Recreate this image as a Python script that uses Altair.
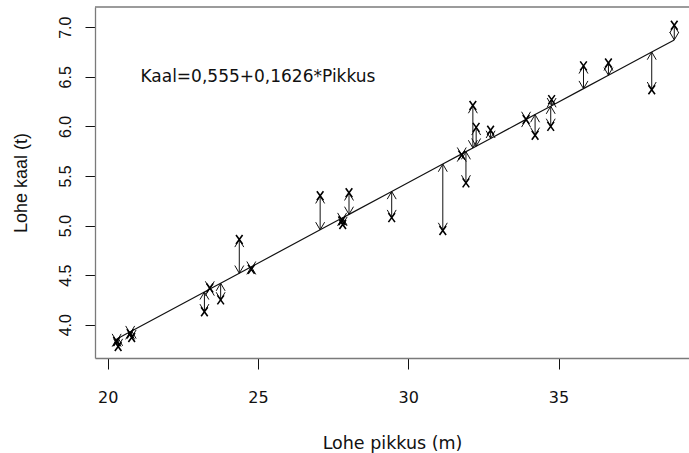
import altair as alt
import pandas as pd

# Salmon length (m) and weight (t)
pikkus = [20.30, 20.35, 20.75, 20.80, 23.22, 23.40, 23.76, 24.38, 24.78,
          27.07, 27.80, 27.82, 28.03, 29.45, 31.15, 31.78, 31.92, 32.15,
          32.26, 32.74, 33.92, 34.22, 34.77, 34.74, 35.83, 36.66, 38.10, 38.85]
kaal = [3.83, 3.78, 3.91, 3.87, 4.13, 4.37, 4.25, 4.86, 4.56,
        5.30, 5.05, 5.01, 5.33, 5.08, 4.95, 5.71, 5.43, 6.21,
        5.99, 5.96, 6.07, 5.91, 6.27, 6.00, 6.61, 6.64, 6.37, 7.02]

# Fitted regression coefficients
B0 = 0.555
B1 = 0.1626

x_ticks = [20, 25, 30, 35]
y_ticks = [4.0, 4.5, 5.0, 5.5, 6.0, 6.5, 7.0]

equation = "Kaal={}+{}*Pikkus".format(str(B0).replace(".", ","), str(B1).replace(".", ","))

df = pd.DataFrame({"x": pikkus, "y": kaal})

W, H = 594, 351
FRAME = "#7a7a7a"
INK = "#111111"

# open symbol paths: cross marker and arrowhead chevrons (tip at origin)
CROSS = "M-0.73,-1L0.73,1M-0.73,1L0.73,-1"
HEAD_UP = "M-0.56,0.96L0,0L0.56,0.96"
HEAD_DOWN = "M-0.56,-0.96L0,0L0.56,-0.96"

xscale = alt.Scale(domain=[19.58, 39.34], nice=False, zero=False)
yscale = alt.Scale(domain=[3.664, 7.204], nice=False, zero=False)

xaxis = alt.Axis(values=x_ticks, format="d", grid=False, tickSize=11, tickColor=INK,
                 labelPadding=33.4, labelBaseline="alphabetic", labelFlush=False,
                 labelFont="DejaVu Sans", labelFontSize=16, labelColor=INK,
                 domainColor=FRAME, domainWidth=1.3,
                 title="Lohe pikkus (m)", titleFont="DejaVu Sans", titleFontSize=17.5,
                 titleFontWeight="normal", titleColor=INK, titleBaseline="alphabetic",
                 titleY=90)
yaxis = alt.Axis(values=y_ticks, format=".1f", grid=False, tickSize=10, tickColor=INK,
                 labelAngle=270, labelAlign="center", labelBaseline="alphabetic",
                 labelPadding=14.3, labelFlush=False,
                 labelFont="Liberation Sans Narrow, Liberation Sans", labelFontSize=16,
                 labelColor=INK, domainColor=FRAME, domainWidth=1.3,
                 title="Lohe kaal (t)", titleFont="Liberation Sans", titleFontSize=18,
                 titleFontWeight="normal", titleColor=INK, titleAngle=270,
                 titleBaseline="alphabetic", titleX=-68.3)

base = alt.Chart(df).transform_calculate(
    fit=f"{B0} + {B1} * datum.x",
).transform_calculate(
    hi="max(datum.y, datum.fit)",
    lo="min(datum.y, datum.fit)",
)

fit_line = base.mark_line(color=INK, strokeWidth=1.2).encode(
    x=alt.X("x:Q", scale=xscale, axis=xaxis),
    y=alt.Y("fit:Q", scale=yscale, axis=yaxis),
)

shafts = base.mark_rule(color=INK, strokeWidth=1).encode(
    x="x:Q", y="lo:Q", y2="hi:Q"
)

heads_up = base.mark_point(shape=HEAD_UP, size=256, filled=False, strokeWidth=1,
                           color=INK, opacity=1).encode(x="x:Q", y="hi:Q")
heads_down = base.mark_point(shape=HEAD_DOWN, size=256, filled=False, strokeWidth=1,
                             color=INK, opacity=1).encode(x="x:Q", y="lo:Q")

points = base.mark_point(shape=CROSS, size=81, filled=False, strokeWidth=1.6,
                         color="black", opacity=1).encode(x="x:Q", y="y:Q")

label = alt.Chart().mark_text(font="DejaVu Sans", fontSize=17, align="center",
                              baseline="middle", color=INK).encode(
    x=alt.datum(25), y=alt.datum(6.5), text=alt.value(equation)
)

# top edge of the plot frame
top_edge = alt.Chart().mark_rule(color=FRAME, strokeWidth=1.3).encode(
    x=alt.value(0), x2=alt.value(W), y=alt.value(0)
)

chart = alt.layer(fit_line, shafts, heads_up, heads_down, points, label, top_edge).properties(
    width=W, height=H,
    autosize=alt.AutoSizeParams(type="none"),
    padding={"left": 95, "top": 7, "right": 0, "bottom": 95},
    background="white",
).configure_view(stroke="transparent")

chart.save("out.html", embed_options={"renderer": "svg", "actions": False})
